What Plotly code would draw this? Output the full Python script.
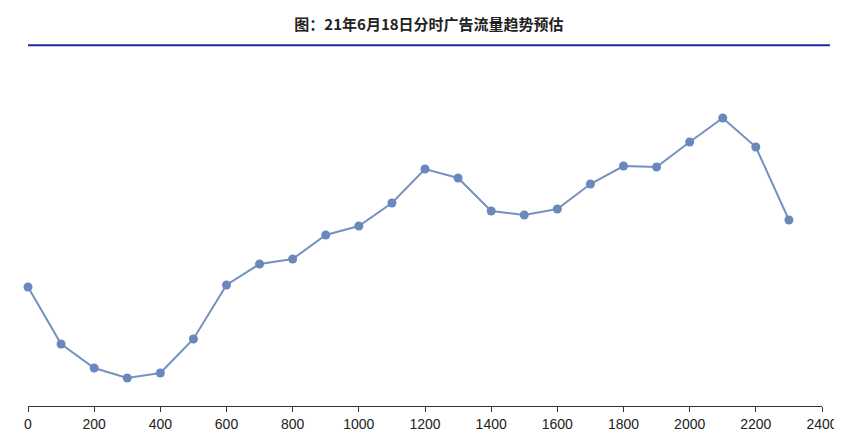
import plotly.graph_objects as go

hours = list(range(0, 2400, 100))
traffic = [121, 64, 40, 30, 35, 69, 123, 144, 149, 173, 182, 205, 239, 230, 197, 193, 199, 224, 242, 241, 266, 290, 261, 188]
x_ticks = list(range(0, 2600, 200))

fig = go.Figure(go.Scatter(x=hours, y=traffic, mode="lines+markers", cliponaxis=False,
    line=dict(color="#7591c0", width=2), marker=dict(color="#6a88bd", size=9)))
fig.update_layout(
    width=842, height=444, margin=dict(l=20, r=28, t=40, b=46),
    plot_bgcolor="white", paper_bgcolor="white", showlegend=False,
    title=dict(text="<b>图：21年6月18日分时广告流量趋势预估</b>", x=0.5, xanchor="center", y=0.975,
               font=dict(family="Noto Sans CJK SC", size=15, color="#222")),
    xaxis=dict(range=[0, 2400], tickvals=x_ticks, showgrid=False, zeroline=False, automargin=False,
               showline=True, linecolor="#333", linewidth=1, ticks="outside", ticklen=5, tickcolor="#333",
               tickfont=dict(family="Liberation Sans", size=14, color="#222")),
    yaxis=dict(range=[2, 360], visible=False, automargin=False),
    shapes=[dict(type="line", xref="paper", yref="paper", x0=0, x1=1.01, y0=1.008, y1=1.008,
                 line=dict(color="#1a2a9c", width=2))],
)
fig.write_html("out.html")
